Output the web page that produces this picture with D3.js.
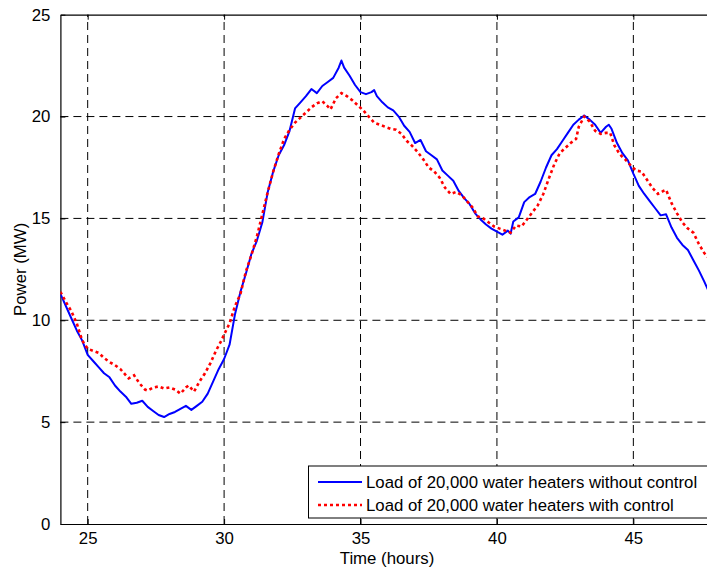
<!DOCTYPE html>
<html>
<head>
<meta charset="utf-8">
<script src="https://cdn.jsdelivr.net/npm/d3@7"></script>
<style>
  body { margin: 0; background: #fff; }
  svg text { font-family: "Liberation Sans", Arial, sans-serif; }
</style>
</head>
<body>
<div id="chart"></div>
<script>
const w = 707
const h = 571
const margin = { left: 60.4, top: 14.7, right: -8.2, bottom: 47 }
const fontSize = 16.8

// Axis ticks
const xTicks = [25, 30, 35, 40, 45]
const yTicks = [0, 5, 10, 15, 20, 25]

// Series names (legend)
const seriesNames = [
  "Load of 20,000 water heaters without control",
  "Load of 20,000 water heaters with control"
]

// Without control (blue), time in hours / power in MW
const blueHours = [24.0, 24.2, 24.4, 24.6, 24.8, 25.0, 25.2, 25.4, 25.6, 25.8, 26.0, 26.2, 26.4, 26.6, 26.8, 27.0, 27.2, 27.4, 27.6, 27.8,
  28.0, 28.2, 28.4, 28.6, 28.8, 29.0, 29.2, 29.4, 29.6, 29.8, 30.0, 30.2, 30.4, 30.6, 30.8, 31.0, 31.2, 31.4, 31.6, 31.8,
  32.0, 32.2, 32.4, 32.6, 32.8, 33.0, 33.2, 33.4, 33.6, 33.8, 34.0, 34.2, 34.3, 34.4, 34.6, 34.8, 35.0, 35.2, 35.4, 35.5,
  35.6, 35.8, 36.0, 36.2, 36.4, 36.6, 36.8, 37.0, 37.2, 37.4, 37.6, 37.8, 38.0, 38.2, 38.4, 38.6, 38.8, 39.0, 39.2, 39.4,
  39.6, 39.8, 40.0, 40.2, 40.4, 40.5, 40.6, 40.8, 41.0, 41.2, 41.4, 41.6, 41.8, 42.0, 42.2, 42.4, 42.6, 42.8, 43.0, 43.2,
  43.4, 43.6, 43.8, 44.0, 44.1, 44.2, 44.4, 44.6, 44.8, 45.0, 45.2, 45.4, 45.6, 45.8, 46.0, 46.2, 46.4, 46.6, 46.8, 47.0,
  47.2, 47.4, 47.6, 47.8, 48.0]
const blueLoad = [11.3, 10.7, 10.1, 9.5, 9.0, 8.3, 8.0, 7.7, 7.4, 7.2, 6.8, 6.5, 6.25, 5.9, 5.95, 6.05, 5.75, 5.55, 5.35, 5.25,
  5.4, 5.5, 5.65, 5.8, 5.6, 5.8, 6.0, 6.4, 7.0, 7.6, 8.1, 8.8, 10.3, 11.4, 12.3, 13.25, 13.9, 14.8, 16.3, 17.3,
  18.1, 18.6, 19.3, 20.4, 20.7, 21.0, 21.35, 21.15, 21.5, 21.7, 21.9, 22.4, 22.75, 22.4, 22.0, 21.55, 21.2, 21.1, 21.2, 21.3,
  21.0, 20.7, 20.45, 20.3, 20.0, 19.55, 19.25, 18.7, 18.85, 18.3, 18.1, 17.9, 17.35, 17.1, 16.85, 16.35, 16.0, 15.7, 15.25, 14.95,
  14.7, 14.5, 14.35, 14.2, 14.4, 14.25, 14.85, 15.05, 15.8, 16.05, 16.2, 16.8, 17.5, 18.1, 18.4, 18.8, 19.2, 19.6, 19.85, 20.05,
  19.85, 19.6, 19.2, 19.5, 19.6, 19.4, 18.7, 18.2, 17.85, 17.2, 16.6, 16.2, 15.85, 15.5, 15.15, 15.2, 14.55, 14.05, 13.7, 13.45,
  12.95, 12.45, 11.9, 11.3, 10.8]

// With control (red dotted)
const redHours = [24.0, 24.2, 24.4, 24.6, 24.8, 25.0, 25.2, 25.4, 25.6, 25.8, 26.0, 26.2, 26.4, 26.5, 26.7, 26.9, 27.1, 27.2, 27.4, 27.6,
  27.8, 28.0, 28.2, 28.4, 28.6, 28.7, 28.9, 29.1, 29.3, 29.5, 29.7, 29.9, 30.0, 30.2, 30.4, 30.6, 30.8, 31.0, 31.2, 31.4,
  31.6, 31.8, 32.0, 32.2, 32.4, 32.6, 32.8, 33.0, 33.2, 33.4, 33.6, 33.8, 33.9, 34.1, 34.3, 34.5, 34.7, 34.9, 35.1, 35.3,
  35.5, 35.7, 35.9, 36.1, 36.3, 36.5, 36.7, 36.9, 37.1, 37.3, 37.5, 37.7, 37.9, 38.1, 38.3, 38.5, 38.7, 38.9, 39.1, 39.3,
  39.5, 39.7, 39.9, 40.1, 40.3, 40.5, 40.7, 40.9, 41.1, 41.3, 41.5, 41.7, 41.9, 42.1, 42.3, 42.5, 42.7, 42.9, 43.0, 43.2,
  43.4, 43.6, 43.8, 44.0, 44.15, 44.3, 44.5, 44.7, 44.9, 45.1, 45.3, 45.5, 45.7, 45.9, 46.1, 46.2, 46.4, 46.6, 46.8, 47.0,
  47.2, 47.4, 47.6, 47.8, 48.0]
const redLoad = [11.4, 10.9, 10.45, 9.85, 9.0, 8.6, 8.5, 8.4, 8.15, 7.95, 7.8, 7.6, 7.3, 7.15, 7.3, 6.9, 6.6, 6.55, 6.7, 6.75,
  6.65, 6.7, 6.6, 6.4, 6.7, 6.8, 6.5, 7.0, 7.4, 7.9, 8.5, 9.0, 9.3, 9.85, 10.7, 11.3, 12.4, 13.2, 14.1, 15.2,
  16.3, 17.3, 18.15, 18.9, 19.35, 19.7, 19.95, 20.2, 20.45, 20.65, 20.75, 20.5, 20.35, 20.9, 21.15, 21.0, 20.8, 20.55, 20.3, 20.0,
  19.7, 19.6, 19.5, 19.4, 19.35, 19.15, 18.8, 18.55, 18.25, 17.9, 17.5, 17.3, 17.0, 16.5, 16.2, 16.3, 16.15, 15.85, 15.55, 15.1,
  15.0, 14.8, 14.6, 14.5, 14.4, 14.3, 14.65, 14.6, 14.95, 15.3, 15.65, 16.2, 16.95, 17.65, 18.2, 18.45, 18.7, 18.9, 19.5, 20.0,
  19.75, 19.3, 19.15, 19.2, 19.2, 18.6, 18.15, 17.9, 17.6, 17.35, 17.3, 16.9, 16.5, 16.2, 16.35, 16.4, 15.75, 15.25, 14.8, 14.5,
  14.3, 13.75, 13.3, 13.0, 12.7]

const svg = d3.select("#chart")
              .append("svg")
                .attr("width", w)
                .attr("height", h)

const x = d3.scaleLinear()
            .domain([24, 48])
            .range([margin.left, w - margin.right])

const y = d3.scaleLinear()
            .domain([0, 25])
            .range([h - margin.bottom, margin.top])

// Grid lines (dashed)
svg.append("g")
   .selectAll("line")
   .data(xTicks)
   .join("line")
     .attr("x1", d => x(d)).attr("x2", d => x(d))
     .attr("y1", y(0)).attr("y2", y(25))
     .attr("stroke", "#000")
     .attr("stroke-width", 1)
     .attr("stroke-dasharray", "8,5")

svg.append("g")
   .selectAll("line")
   .data(yTicks.filter(d => d > 0 && d < 25))
   .join("line")
     .attr("x1", x(24)).attr("x2", x(48))
     .attr("y1", d => y(d)).attr("y2", d => y(d))
     .attr("stroke", "#000")
     .attr("stroke-width", 1)
     .attr("stroke-dasharray", "8,5")

// Axes, ticks inward like MATLAB
const xAxis = svg.append("g")
   .attr("transform", `translate(0,${y(0)})`)
   .call(d3.axisBottom(x).tickValues(xTicks).tickSizeInner(-5).tickSizeOuter(0).tickPadding(8))
const xAxisTop = svg.append("g")
   .attr("transform", `translate(0,${y(25)})`)
   .call(d3.axisTop(x).tickValues(xTicks).tickSizeInner(-5).tickSizeOuter(0).tickFormat(""))
const yAxis = svg.append("g")
   .attr("transform", `translate(${x(24)},0)`)
   .call(d3.axisLeft(y).tickValues(yTicks).tickSizeInner(-5).tickSizeOuter(0).tickPadding(10))

;[xAxis, xAxisTop, yAxis].forEach(g => {
  g.select(".domain").attr("stroke", "#000").attr("stroke-width", 1.2)
  g.selectAll(".tick line").attr("stroke", "#000")
  g.selectAll(".tick text").attr("font-size", fontSize).attr("fill", "#000")
    .style("font-family", "'Liberation Sans', Arial, sans-serif")
})

// Lines, clipped to plot area
svg.append("clipPath").attr("id", "plot-clip")
   .append("rect")
     .attr("x", x(24)).attr("y", y(25))
     .attr("width", x(48) - x(24)).attr("height", y(0) - y(25))

const blueData = blueHours.map((t, i) => [t, blueLoad[i]])
const redData = redHours.map((t, i) => [t, redLoad[i]])

const line = d3.line()
               .x(d => x(d[0]))
               .y(d => y(d[1]))

const plot = svg.append("g").attr("clip-path", "url(#plot-clip)")

plot.append("path")
    .datum(blueData)
    .attr("d", line)
    .attr("fill", "none")
    .attr("stroke", "#0000ff")
    .attr("stroke-width", 2)
    .attr("stroke-linejoin", "round")

plot.append("path")
    .datum(redData)
    .attr("d", line)
    .attr("fill", "none")
    .attr("stroke", "#ff0000")
    .attr("stroke-width", 2.6)
    .attr("stroke-dasharray", "3,3")

// Axis labels
svg.append("text")
   .attr("x", 387)
   .attr("y", 564)
   .attr("text-anchor", "middle")
   .attr("font-size", fontSize)
   .text("Time (hours)")

svg.append("text")
   .attr("transform", `translate(26,${(y(0) + y(25)) / 2}) rotate(-90)`)
   .attr("text-anchor", "middle")
   .attr("font-size", fontSize)
   .text("Power (MW)")

// Legend
const legend = svg.append("g")
legend.append("rect")
      .attr("x", 308.5).attr("y", 466)
      .attr("width", 420).attr("height", 52)
      .attr("fill", "#fff")
      .attr("stroke", "#000")
      .attr("stroke-width", 1)

const legendStyles = [
  { color: "#0000ff", width: 2, dash: null },
  { color: "#ff0000", width: 2.6, dash: "3,3" }
]

seriesNames.forEach((name, i) => {
  const ly = 482 + i * 23
  legend.append("line")
        .attr("x1", 318).attr("x2", 362)
        .attr("y1", ly).attr("y2", ly)
        .attr("stroke", legendStyles[i].color)
        .attr("stroke-width", legendStyles[i].width)
        .attr("stroke-dasharray", legendStyles[i].dash)
  legend.append("text")
        .attr("x", 366).attr("y", ly + 6)
        .attr("font-size", fontSize)
        .text(name)
})
</script>
</body>
</html>
